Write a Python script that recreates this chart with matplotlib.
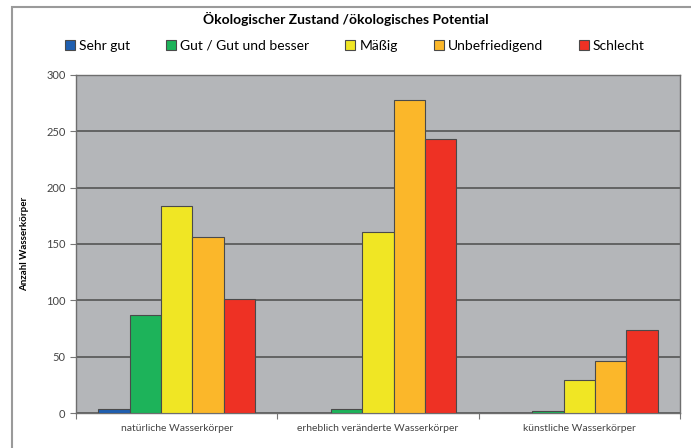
import matplotlib.pyplot as plt
import numpy as np
from matplotlib.patches import Rectangle

plt.rcParams['font.family'] = ['Lato', 'DejaVu Sans']

categories = ["natürliche Wasserkörper", "erheblich veränderte Wasserkörper", "künstliche Wasserkörper"]
series = ["Sehr gut", "Gut / Gut und besser", "Mäßig", "Unbefriedigend", "Schlecht"]
sehr_gut = [4, 0, 0]
gut = [87, 4, 2]
maessig = [184, 161, 29]
unbefriedigend = [156, 278, 46]
schlecht = [101, 243, 74]
colors = ["#1f5fb0", "#1db35a", "#f0e624", "#fbb72a", "#ee3124"]

values = [sehr_gut, gut, maessig, unbefriedigend, schlecht]

fig = plt.figure(figsize=(6.91, 4.48), dpi=100)
ax = fig.add_axes([0.110, 0.078, 0.874, 0.755])
ax.set_facecolor("#b4b6b9")

x = np.arange(len(categories))
w = 0.156
for i, (name, vals, c) in enumerate(zip(series, values, colors)):
    ax.bar(x + (i - 2) * w, vals, width=w, color=c, edgecolor="#4a4a4a",
           linewidth=0.8, label=name, zorder=3)

ax.set_xlim(-0.5, 2.5)
ax.set_ylim(0, 300)
ax.set_yticks(range(0, 301, 50))
ax.yaxis.grid(True, color="#555555", linewidth=1.2, zorder=0)
ax.set_axisbelow(True)

# category labels between boundary ticks
ax.set_xticks([-0.5, 0.5, 1.5, 2.5])
ax.set_xticklabels([])
ax.set_xticks(x, minor=True)
ax.set_xticklabels(categories, minor=True, fontsize=7.5, color="#444444")
ax.tick_params(axis="x", which="minor", length=0, pad=8)
ax.tick_params(axis="x", which="major", length=4, color="#777777")
ax.tick_params(axis="y", length=4, color="#777777", labelsize=8, labelcolor="#444444")

for s in ax.spines.values():
    s.set_color("#6e6e6e")
    s.set_linewidth(1.0)

ax.set_ylabel("Anzahl Wasserkörper", fontsize=7, fontweight="bold", labelpad=12)

fig.text(0.50, 0.958, "Ökologischer Zustand /ökologisches Potential",
         ha="center", va="center", fontsize=10, fontweight="bold")

ax.legend(loc="center", bbox_to_anchor=(0.462, 1.086), ncol=5, frameon=False,
          fontsize=10, handlelength=0.7, handleheight=0.7, handletextpad=0.3,
          columnspacing=2.6, borderaxespad=0)

# outer frame of the picture
fig.patches.append(Rectangle((12 / 691, -0.1), 1.2, (448 - 7) / 448 + 0.1,
                             transform=fig.transFigure, fill=False,
                             edgecolor="#9a9a9a", linewidth=1.5))

fig.savefig("out.png", dpi=100)
